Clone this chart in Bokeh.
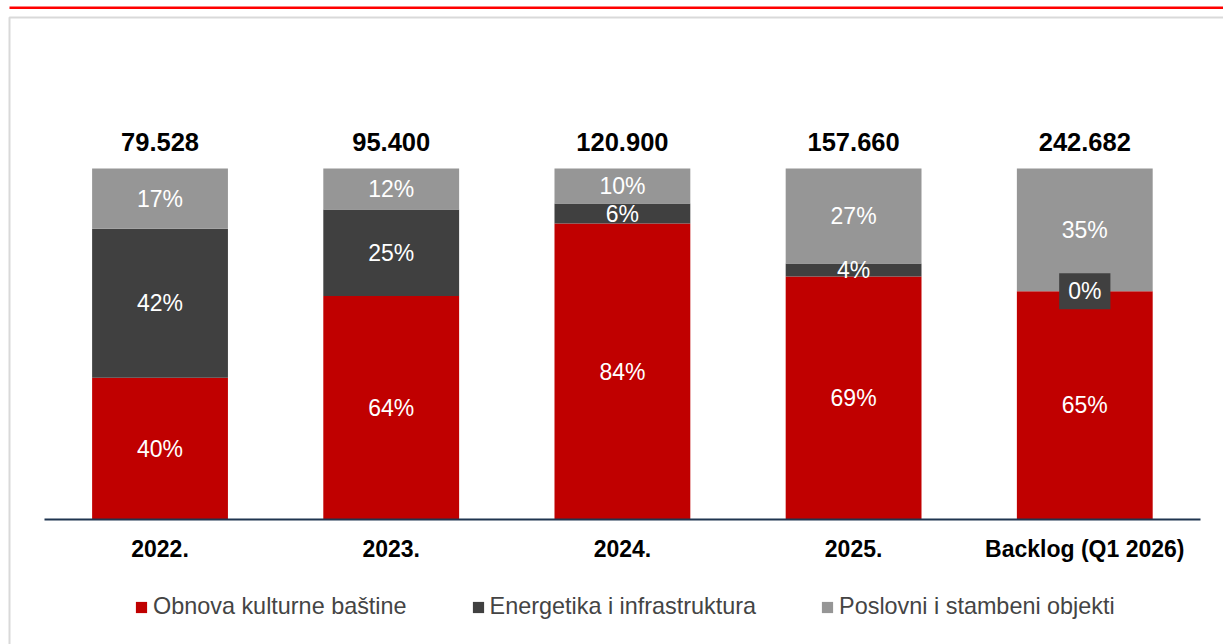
from bokeh.plotting import figure
from bokeh.models import (ColumnDataSource, Range1d, Legend, LegendItem,
                          BoxAnnotation, FixedTicker)
from bokeh.core.properties import value
from bokeh.embed import file_html
from bokeh.resources import INLINE

# ---- data ----
categories = ["2022.", "2023.", "2024.", "2025.", "Backlog (Q1 2026)"]
totals = [79528, 95400, 120900, 157660, 242682]
obnova = [40.4, 63.7, 84.3, 69.2, 65.0]        # Obnova kulturne baštine (%)
energetika = [42.4, 24.6, 5.7, 3.7, 0.0]       # Energetika i infrastruktura (%)
poslovni = [17.2, 11.7, 10.0, 27.1, 35.0]      # Poslovni i stambeni objekti (%)
series_names = ["Obnova kulturne baštine", "Energetika i infrastruktura",
                "Poslovni i stambeni objekti"]
colors = ["#C00000", "#404040", "#969696"]

FONT = "Liberation Sans"
W, H = 1223, 644

xpos = [i + 0.5 for i in range(len(categories))]
source = ColumnDataSource(dict(x=xpos, s0=obnova, s1=energetika, s2=poslovni))

p = figure(x_range=Range1d(-0.190, 5.100), y_range=Range1d(-35.61, 147.86),
           width=W, height=H, output_backend="svg", toolbar_location=None,
           title_location=None, y_axis_location=None, x_axis_location="below",
           min_border_left=0, min_border_right=0, min_border_top=0, min_border_bottom=0,
           outline_line_color=None, background_fill_color="white",
           border_fill_color="white")
p.xgrid.visible = False
p.ygrid.visible = False

renderers = p.vbar_stack(["s0", "s1", "s2"], x="x", width=0.5875, color=colors,
                         line_color=None, source=source)

# segment labels
lx, ly, lt, zx, zy, zt = [], [], [], [], [], []
for i, c in enumerate(xpos):
    base = 0.0
    for vals in (obnova, energetika, poslovni):
        v = vals[i]
        mid = base + v / 2.0
        txt = f"{round(v):d}%"
        if v == 0:
            zx.append(c); zy.append(mid); zt.append(txt)
        else:
            lx.append(c); ly.append(mid); lt.append(txt)
        base += v

p.text(x=lx, y=ly, text=lt, text_color="white", text_font=value(FONT),
       text_font_size="23px", text_align="center", text_baseline="middle")
p.text(x=zx, y=zy, text=zt, text_color="white", text_font=value(FONT),
       text_font_size="23px", text_align="center", text_baseline="middle",
       background_fill_color="#404040", padding=(9, 5))

# totals above bars
tot_txt = [f"{t:,}".replace(",", ".") for t in totals]
tops = [a + b + c for a, b, c in zip(obnova, energetika, poslovni)]
p.text(x=xpos, y=tops, text=tot_txt, text_color="black", text_font=value(FONT),
       text_font_size="25.5px", text_font_style="bold", text_align="center",
       text_baseline="middle", y_offset=-26)

# x axis (drawn at y = 0 inside the full-canvas frame)
ax = p.xaxis[0]
ax.fixed_location = 0
ax.bounds = (0, len(categories))
ax.ticker = FixedTicker(ticks=xpos)
ax.major_label_overrides = {x: c for x, c in zip(xpos, categories)}
ax.axis_line_color = "#1F3550"
ax.axis_line_width = 2
ax.major_tick_line_color = None
ax.minor_tick_line_color = None
ax.major_label_text_font = FONT
ax.major_label_text_font_size = "23px"
ax.major_label_text_font_style = "bold"
ax.major_label_text_color = "black"
ax.major_label_standoff = 10

# legend
legend = Legend(items=[LegendItem(label=n, renderers=[r]) for n, r in zip(series_names, renderers)],
                orientation="horizontal", location=(134, 24), padding=0, margin=0,
                spacing=64, glyph_width=14, glyph_height=14, label_standoff=5,
                label_text_font=FONT, label_text_font_size="23.4px",
                border_line_color=None, background_fill_alpha=0)
p.add_layout(legend, "center")

# decorations: red top line and light frame
p.add_layout(BoxAnnotation(left=9, right=W, top=6, bottom=8.5, left_units="canvas",
                           right_units="canvas", top_units="canvas", bottom_units="canvas",
                           fill_color="#FF0000", fill_alpha=1, line_color=None))
p.add_layout(BoxAnnotation(left=9, right=W + 20, top=17, bottom=H + 20, left_units="canvas",
                           right_units="canvas", top_units="canvas", bottom_units="canvas",
                           fill_alpha=0, line_color="#D9D9D9", line_width=2, line_alpha=1))

open("out.html", "w").write(file_html(p, INLINE))
